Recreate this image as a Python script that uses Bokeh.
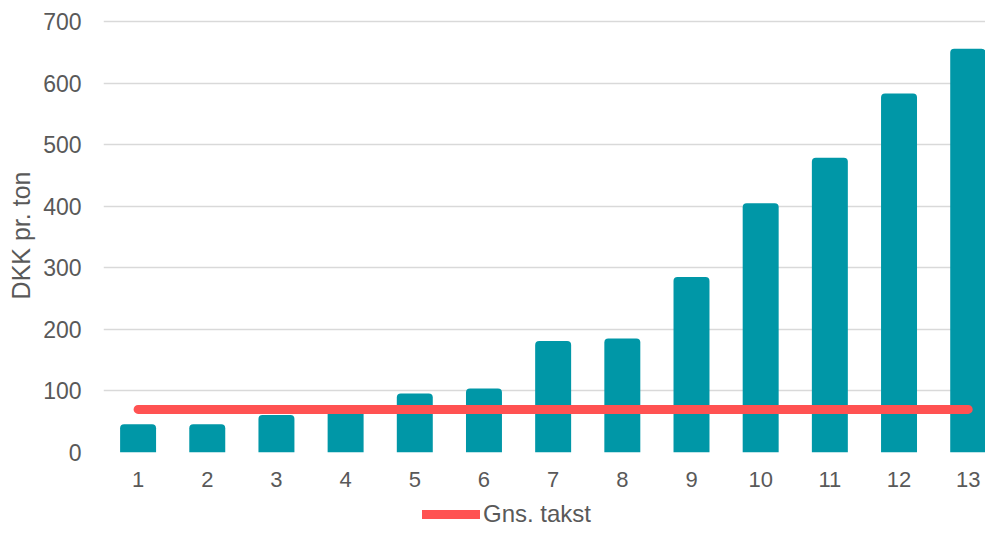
from bokeh.plotting import figure
from bokeh.layouts import column
from bokeh.models import ColumnDataSource, Legend, LegendItem, Range1d, FixedTicker
from bokeh.embed import file_html
from bokeh.resources import INLINE

categories = [1, 2, 3, 4, 5, 6, 7, 8, 9, 10, 11, 12, 13]
values = [46, 46, 61, 73, 96, 104, 181, 185, 285, 405, 479, 583, 656]
avg_rate = [70, 70, 70, 70, 70, 70, 70, 70, 70, 70, 70, 70, 70]
y_ticks = [0, 100, 200, 300, 400, 500, 600, 700]

FONT = "Liberation Sans"
TXT = "#595959"
RED = "#FF5252"

src = ColumnDataSource(dict(x=categories, top=values, avg=avg_rate))

p = figure(width=985, height=490, output_backend="svg", toolbar_location=None,
           x_range=Range1d(0.5, 13.25), y_range=Range1d(0, 705),
           min_border_left=103, min_border_right=0, min_border_top=18, min_border_bottom=38)
p.outline_line_color = None
p.background_fill_color = "white"

p.vbar(x="x", top="top", bottom=0, width=0.52, source=src,
       fill_color="#0097A7", line_color=None, border_radius=[4, 4, 0, 0])
p.line(x="x", y="avg", source=src, line_color=RED, line_width=9, line_cap="round")

p.xgrid.grid_line_color = None
p.ygrid.grid_line_color = "#D9D9D9"
p.ygrid.grid_line_width = 1.5
p.ygrid.ticker = FixedTicker(ticks=y_ticks)

p.yaxis.ticker = FixedTicker(ticks=y_ticks)
p.xaxis.ticker = FixedTicker(ticks=categories)
for ax in (p.xaxis[0], p.yaxis[0]):
    ax.axis_line_color = None
    ax.major_tick_line_color = None
    ax.minor_tick_line_color = None
    ax.major_label_text_font = FONT
    ax.major_label_text_font_size = "23px"
    ax.major_label_text_color = TXT
p.xaxis.major_label_text_font_size = "22px"
p.yaxis.major_label_standoff = 16
p.xaxis.major_label_standoff = 13
p.yaxis.axis_label = "DKK pr. ton"
p.yaxis.axis_label_text_font = FONT
p.yaxis.axis_label_text_font_size = "25px"
p.yaxis.axis_label_text_font_style = "normal"
p.yaxis.axis_label_text_color = TXT
p.yaxis.axis_label_standoff = 5

# legend strip below the chart
lg = figure(width=985, height=39, output_backend="svg", toolbar_location=None,
            x_range=Range1d(100, 101), y_range=Range1d(100, 101),
            min_border=0, min_border_left=103, min_border_right=0)
lg.axis.visible = False
lg.grid.visible = False
lg.outline_line_color = None
lg_line = lg.line(x="x", y="avg", source=src, line_color=RED, line_width=9,
                  line_cap="round")
legend = Legend(items=[LegendItem(label="Gns. takst", renderers=[lg_line])],
                location=(319, 1), orientation="horizontal",
                label_text_font=FONT, label_text_font_size="24px",
                label_text_color=TXT, glyph_width=58, glyph_height=24,
                label_standoff=3, border_line_color=None, padding=0, margin=0,
                background_fill_alpha=0)
lg.add_layout(legend, "center")

layout = column(p, lg, spacing=0)
open("out.html", "w").write(file_html(layout, INLINE))
